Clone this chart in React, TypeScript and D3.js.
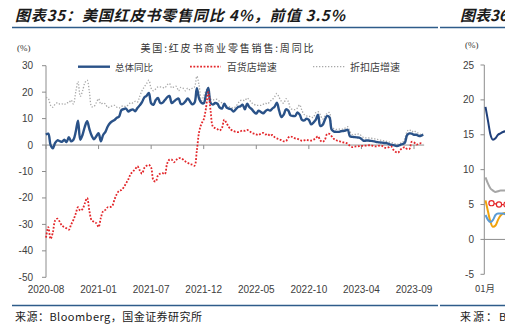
import React from "react";
import * as d3 from "d3";

const tickLabels = ["2020-08", "2021-01", "2021-07", "2021-12", "2022-05", "2022-10", "2023-04", "2023-09"];
const tickStep = 23;
const yTicks = [30, 20, 10, 0, -10, -20, -30, -40, -50];

const totalYoY = [
  3.9, 4.3, 0, -1.2, 0.8, 1.8, 1.5, 1.2, 2, 1.1,
  3, 1.4, 2, 5, 9.2, 2, 3.9, 7, 9, 6,
  3.5, 2.2, 3.3, 4.5, 1.4, 3.8, 5, 7, 8.3, 9,
  9.5, 10.3, 10.8, 13.2, 13.6, 13.8, 12.7, 13.2, 13.5, 12.8,
  14, 15, 16.2, 18, 18.6, 19.7, 15.8, 15.2, 17, 17.8,
  15.9, 16, 17, 18, 18.6, 15.9, 16.5, 17.2, 17.6, 15.5,
  15.6, 16.5, 17.6, 16.5, 15.4, 16, 21.5, 17.5, 16, 15.8,
  19, 21.6, 16, 15.3, 15.9, 15.6, 14.2, 13.8, 15.6, 14.2,
  13.8, 13.5, 12.7, 13.5, 14.4, 14.6, 15.3, 13.5, 15.6, 14.3,
  13.6, 12.5, 11.9, 13, 12.5, 12, 12.8, 13.4, 13, 13.8,
  14.5, 16, 13, 10.6, 11.5, 13.5, 13, 11.2, 11, 11,
  12.3, 11.5, 9.5, 9.3, 10, 9.5, 7.8, 8.5, 9.5, 11.5,
  7.2, 7.6, 9.5, 11, 10.5, 5.8, 5.1, 5, 5, 5.2,
  5.3, 5.5, 5.8, 3.3, 3.1, 3, 2.9, 2.8, 2.3, 1.6,
  1.7, 1.7, 1.6, 1.5, 1.3, 1.1, 1, 0.9, 0.8, 0.7,
  0.4, 0.1, 0, -0.3, -0.3, 0.1, 0.4, 0.9, 3.8, 4.4,
  4.3, 3.9, 3.9, 3.5, 3.5, 4,
];

const deptStore = [
  -35, -31, -35.5, -33, -28.5, -27.8, -29, -30.5, -31, -31.5,
  -32, -30, -28.3, -26, -23.5, -24.8, -24.2, -22, -20, -25,
  -28.5, -29, -29.5, -31, -27.5, -25, -24.5, -23.5, -23.5, -23,
  -20.5, -18.5, -17.3, -17, -16, -14.5, -13, -11, -10, -9.2,
  -8, -9.5, -10.8, -8.7, -7.8, -7.5, -8.5, -13.3, -13.8, -11.5,
  -10.8, -10.6, -11, -7, -5.5, -5.5, -6.5, -5.6, -5, -5,
  -5.5, -6.2, -6.7, -7.2, -7.4, -7.8, -2, 5, 8, 9.7,
  14, 20, 13, 7, 6.4, 6, 5.5, 6.5, 9.6, 8.3,
  6.8, 5.8, 5.3, 5, 4.9, 5.2, 5.5, 5.4, 5.7, 5.3,
  4.6, 4.3, 4, 3.8, 4.3, 4.6, 4, 4.2, 3.5, 3.8,
  3, 2.5, 2.2, 1.8, 1.4, 1.5, 2.8, 3.2, 3, 2.5,
  2.3, 2, 1.6, 1.8, 2, 1.7, 1.7, 2, 2.6, 3.3,
  1.8, 1.2, 2, 4.2, 4.2, 3.3, 2.3, 1.8, 1.5, 1.3,
  1, 0.9, 0.5, -0.3, -0.8, -0.6, -0.5, -0.4, -0.3, -0.3,
  -0.2, -0.1, -0.1, -0.3, -0.5, -0.4, -0.2, -0.3, -0.9, -1.1,
  -0.8, -0.5, -1.8, -2.6, -2.9, -1.8, -1.2, -0.8, -1.5, -1.5,
  1.2, 1, 0.2, 0.4, 0.7, 0.6,
];

const discountStore = [
  18, 17.6, 15, 14.3, 15.5, 16, 15.5, 15.6, 15.3, 16,
  16, 17, 15.5, 20, 24, 18.4, 20.5, 23.5, 24.5, 20,
  14.5, 14.6, 16, 17.5, 15.5, 15.9, 15.5, 14.2, 14.4, 14.8,
  15, 14.3, 14, 14.6, 14.8, 14.5, 15.2, 16, 15.9, 16.5,
  16.2, 18.4, 20.5, 22, 23.2, 24.5, 21.5, 20.5, 21.2, 22,
  22, 21.8, 21.6, 22.8, 23.3, 21.6, 22, 22.2, 20.5, 21.8,
  21.5, 20.5, 21.5, 20.9, 21.5, 22, 26, 22.5, 16.8, 18.5,
  20.5, 21.8, 17.5, 17, 17.3, 17.2, 16.5, 15.9, 15.5, 14.8,
  14.5, 14.2, 14, 14.5, 15.8, 16.8, 17, 16.8, 17.8, 17,
  16, 15.4, 15, 15, 15, 15.4, 15.8, 15.6, 16.5, 17.2,
  18.2, 19.5, 18, 16.5, 15.8, 17.5, 16.5, 13.8, 13.5, 13.4,
  14, 15.2, 13, 11.5, 11, 11, 10.5, 10.5, 12.2, 12.6,
  11.5, 9.8, 11, 12, 12.3, 6.5, 6.2, 5.9, 6, 6.1,
  6, 6.5, 6.9, 5, 4, 4, 4, 4.2, 3.5, 2.8,
  2.7, 2.7, 2.6, 2.5, 2.3, 2.1, 1.9, 1.7, 1.6, 1.4,
  1.2, 1, 0.8, 0.3, 0.3, 0.7, 1, 2.5, 5.2, 5.8,
  5, 5.4, 4.8, 4.5, 4, 4.3,
];

// Neighbouring chart (图表36), only its left edge is visible
const c36YTicks = [25, 20, 15, 10, 5, 0, -5];
const c36Dark = [19, 17, 15, 14.3, 14.5, 15, 15.2, 15.4, 15.5];
const c36Gray = [8.9, 8, 7.3, 7, 6.8, 6.9, 7, 7, 7];
const c36Orange = [5.6, 4, 2.5, 1.8, 2, 2.8, 3.4, 3.7, 3.8];
const c36Light = [3.5, 2.8, 2.5, 2.8, 3.5, 3.7, 3.7, 3.7, 3.6];
const c36Red = [null, null, null, 5.2, 5.1, 5.0, 5.0, 5.0, 5.0];
const c36RedMarkers = [3, 6, 9];

const CJK = "'Noto Sans CJK SC', sans-serif";
const ARIAL = "'Liberation Sans', Arial, sans-serif";

export default function App() {
  const W = 505;
  const H = 327;
  const n = totalYoY.length;
  const x = d3.scaleLinear().domain([0, tickStep * 7]).range([46, 414]);
  const y = d3.scaleLinear().domain([-50, 30]).range([277.3, 65.7]);
  const idx = d3.range(n);

  const mk = (arr: number[]) =>
    d3
      .line<number>()
      .x((i) => x(i))
      .y((i) => y(arr[i]))
      .curve(d3.curveCatmullRom.alpha(0.5))(idx) || "";

  const ticks = tickLabels.map((t, k) => ({ t, i: k * tickStep }));

  // chart 36 scales
  const x36 = d3.scaleLinear().domain([0, 8]).range([485.5, 505.5]);
  const y36 = d3.scaleLinear().domain([-5, 25]).range([274.3, 65]);
  const mk36 = (arr: (number | null)[]) =>
    d3
      .line<number>()
      .defined((i) => arr[i] != null)
      .x((i) => x36(i))
      .y((i) => y36(arr[i] as number))
      .curve(d3.curveMonotoneX)(d3.range(arr.length)) || "";

  return (
    <svg
      width={W}
      height={H}
      viewBox={`0 0 ${W} ${H}`}
      style={{ position: "fixed", left: 0, top: 0, background: "#fff" }}
    >
      <rect x={0} y={0} width={W} height={H} fill="#fff" />
      {/* Titles */}
      <text
        x={15}
        y={20.5}
        fontFamily={CJK}
        fontSize={15}
        fontWeight={700}
        fontStyle="italic"
        fill="#1a1a1a"
        textLength={330}
        lengthAdjust="spacing"
      >
        图表35：美国红皮书零售同比 4%，前值 3.5%
      </text>
      <text x={460} y={20.5} fontFamily={CJK} fontSize={15} fontWeight={700} fontStyle="italic" fill="#1a1a1a">
        图表36
      </text>
      <line x1={12} x2={438} y1={27.5} y2={27.5} stroke="#2e5c8a" strokeWidth={1.5} />
      <line x1={440} x2={505} y1={27.5} y2={27.5} stroke="#2e5c8a" strokeWidth={1.5} />
      <line x1={12} x2={438} y1={305.5} y2={305.5} stroke="#2e5c8a" strokeWidth={1.5} />
      <line x1={440} x2={505} y1={305.5} y2={305.5} stroke="#2e5c8a" strokeWidth={1.5} />

      <text x={15} y={321} fontFamily={CJK} fontSize={11} fill="#1a1a1a" textLength={187} lengthAdjust="spacing">
        来源：Bloomberg，国金证券研究所
      </text>
      <text x={460} y={321} fontFamily={CJK} fontSize={11} fill="#1a1a1a" letterSpacing={2}>
        来源：Bloomberg
      </text>

      {/* chart 35 header */}
      <text x={17} y={50.5} fontFamily="'Liberation Serif', serif" fontSize={9} fill="#333">
        (%)
      </text>
      <text
        x={227}
        y={52}
        textAnchor="middle"
        fontFamily={CJK}
        fontSize={10}
        fill="#333"
        textLength={173}
        lengthAdjust="spacing"
      >
        美国:红皮书商业零售销售:周同比
      </text>

      {/* legend */}
      <line x1={78} x2={110} y1={66.7} y2={66.7} stroke="#2a5288" strokeWidth={2.4} />
      <text x={115} y={70.5} fontFamily={CJK} fontSize={9.5} fill="#404040" textLength={38} lengthAdjust="spacing">
        总体同比
      </text>
      <line x1={190} x2={221} y1={66.7} y2={66.7} stroke="#e3262a" strokeWidth={1.8} strokeDasharray="1.8 1.6" />
      <text x={226.7} y={70.5} fontFamily={CJK} fontSize={10} fill="#404040" textLength={50} lengthAdjust="spacing">
        百货店增速
      </text>
      <line x1={313} x2={345} y1={66.7} y2={66.7} stroke="#a8a8a8" strokeWidth={1.3} strokeDasharray="1.3 1.7" />
      <text x={350} y={70.5} fontFamily={CJK} fontSize={10} fill="#404040" textLength={50} lengthAdjust="spacing">
        折扣店增速
      </text>

      {/* y axis */}
      <line x1={46} x2={46} y1={y(30)} y2={y(-50)} stroke="#8c8c8c" strokeWidth={1} />
      {yTicks.map((v) => (
        <g key={v}>
          <line x1={42} x2={46} y1={y(v)} y2={y(v)} stroke="#8c8c8c" strokeWidth={1} />
          <text x={33} y={y(v)} dy="0.35em" textAnchor="end" fontFamily={ARIAL} fontSize={10} fill="#404040">
            {v}
          </text>
        </g>
      ))}

      {/* x axis at zero */}
      <line x1={46} x2={x(n - 1) + 1} y1={y(0)} y2={y(0)} stroke="#8c8c8c" strokeWidth={1} />
      {ticks.map((d) => (
        <g key={d.t}>
          <line x1={x(d.i)} x2={x(d.i)} y1={y(0)} y2={y(0) + 4} stroke="#8c8c8c" strokeWidth={1} />
          <text x={x(d.i)} y={293} textAnchor="middle" fontFamily={ARIAL} fontSize={10} fill="#404040">
            {d.t}
          </text>
        </g>
      ))}

      {/* series */}
      <path d={mk(discountStore)} fill="none" stroke="#a8a8a8" strokeWidth={1.3} strokeDasharray="1.3 1.7" />
      <path d={mk(totalYoY)} fill="none" stroke="#2a5288" strokeWidth={2.4} strokeLinejoin="round" />
      <path d={mk(deptStore)} fill="none" stroke="#e3262a" strokeWidth={1.8} strokeDasharray="1.8 1.6" />

      {/* chart 36 partial */}
      <text x={465} y={48} fontFamily="'Liberation Serif', serif" fontSize={9} fill="#333">
        (%)
      </text>
      <line x1={484.3} x2={484.3} y1={y36(25)} y2={y36(-5)} stroke="#8c8c8c" />
      {c36YTicks.map((v) => (
        <g key={"c36" + v}>
          <line x1={480.5} x2={484.3} y1={y36(v)} y2={y36(v)} stroke="#8c8c8c" />
          <text x={474} y={y36(v)} dy="0.35em" textAnchor="end" fontFamily={ARIAL} fontSize={10} fill="#404040">
            {v}
          </text>
        </g>
      ))}
      <line x1={484.3} x2={505} y1={y36(0)} y2={y36(0)} stroke="#8c8c8c" />
      <text x={485} y={292} textAnchor="middle" fontFamily={CJK} fontSize={9.5} fill="#404040">
        01月
      </text>
      <path d={mk36(c36Gray)} fill="none" stroke="#a6a6a6" strokeWidth={2} />
      <path d={mk36(c36Orange)} fill="none" stroke="#f0a20c" strokeWidth={2} />
      <path d={mk36(c36Light)} fill="none" stroke="#5b9bd5" strokeWidth={2} />
      <path d={mk36(c36Dark)} fill="none" stroke="#1f3f7a" strokeWidth={2} />
      <path d={mk36(c36Red)} fill="none" stroke="#e3262a" strokeWidth={1.2} />
      {c36RedMarkers.map((i) => (
        <circle key={"m" + i} cx={x36(i) - 1.5} cy={y36(c36Red[Math.min(i, 8)] as number)} r={2.6} fill="#fff" stroke="#e3262a" strokeWidth={1.2} />
      ))}
    </svg>
  );
}
